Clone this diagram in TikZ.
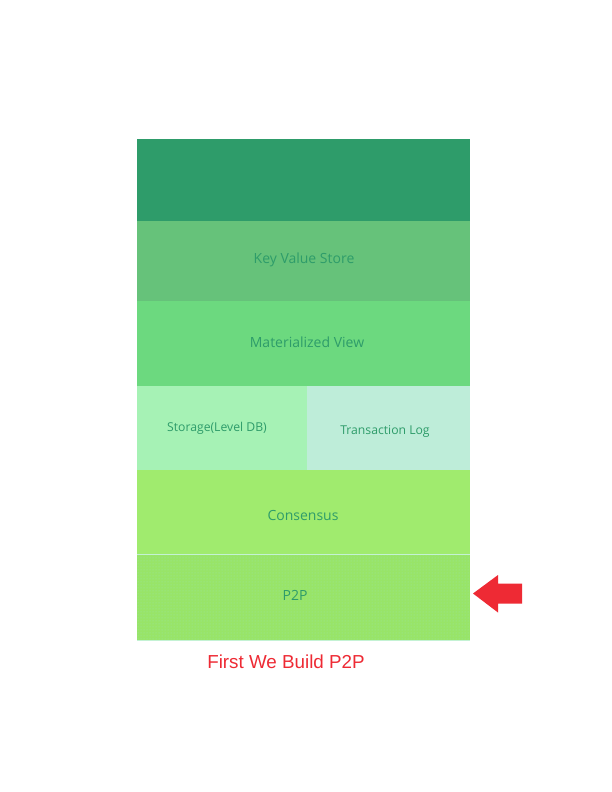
\documentclass[tikz,border=0pt]{standalone}
\usepackage{fontspec}
\setmainfont{Open Sans}
\newfontfamily\arialfont{Liberation Sans}
\usetikzlibrary{patterns}
\definecolor{cTop}{HTML}{2E9C6A}
\definecolor{cKV}{HTML}{66C27A}
\definecolor{cMV}{HTML}{6CD97F}
\definecolor{cST}{HTML}{A6F2B5}
\definecolor{cTL}{HTML}{BEEDD9}
\definecolor{cCO}{HTML}{A0EB6E}
\definecolor{cPP}{HTML}{98E468}
\definecolor{cTxt}{HTML}{2E9C6A}
\definecolor{cRed}{HTML}{EE2A34}
\definecolor{cLine}{HTML}{C4F2D4}
\tikzset{
  layer/.style={draw=none, inner sep=0pt, outer sep=0pt, anchor=north west},
  bigtxt/.style={text=cTxt, font=\fontsize{14}{16}\selectfont},
  smalltxt/.style={text=cTxt, font=\fontsize{12.2}{14}\selectfont},
}
\begin{document}
\begin{tikzpicture}[x=1pt,y=-1pt]
\useasboundingbox (0,0) rectangle (612,792);
\fill[white] (0,0) rectangle (612,792);
% layers
\node[layer, fill=cTop, minimum width=333pt, minimum height=82pt] (top) at (137,139) {};
\node[layer, fill=cKV, minimum width=333pt, minimum height=80pt] (kv) at (137,221) {};
\node[layer, fill=cMV, minimum width=333pt, minimum height=85pt] (mv) at (137,301) {};
\node[layer, fill=cST, minimum width=170pt, minimum height=84pt] (st) at (137,386) {};
\node[layer, fill=cTL, minimum width=163pt, minimum height=84pt] (tl) at (307,386) {};
\node[layer, fill=cCO, minimum width=333pt, minimum height=84pt] (co) at (137,470) {};
\node[layer, fill=cPP, minimum width=333pt, minimum height=86pt] (pp) at (137,554) {};
\fill[pattern=dots, pattern color=cMV!70] (pp.north west) rectangle (pp.south east);
\draw[cLine, line width=0.8pt] (pp.north west) -- (pp.north east);
\draw[cLine, line width=0.8pt] (pp.south west) -- (pp.south east);
% labels
\node[bigtxt] (kvt) at (304,260) {Key Value Store};
\node[bigtxt] (mvt) at (307,342) {Materialized View};
\node[smalltxt] (stt) at (217,428) {Storage(Level DB)};
\node[smalltxt] (tlt) at (385,431) {Transaction Log};
\node[bigtxt] (cot) at (303,515) {Consensus};
\node[bigtxt] (ppt) at (295,595) {P2P};
% caption
\node[text=cRed, font=\arialfont\fontsize{18.8}{22}\selectfont] (cap) at (286,662) {First We Build P2P};
% arrow
\fill[cRed] (473,593.5) -- (498,575) -- (498,583.5) -- (522,583.5) -- (522,603.5) -- (498,603.5) -- (498,612.5) -- cycle;
\end{tikzpicture}
\end{document}
